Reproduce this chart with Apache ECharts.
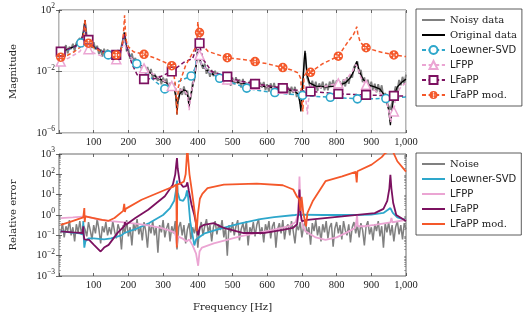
<!DOCTYPE html>
<html><head><meta charset="utf-8">
<script src="https://cdn.jsdelivr.net/npm/echarts@6/dist/echarts.min.js"></script>
<style>html,body{margin:0;padding:0;background:#fff}#c{width:525px;height:317px}</style>
</head><body><div id="c"></div>
<script>
// ---------- tick labels ----------
const xTicks = [100,200,300,400,500,600,700,800,900,1000];
const magTicks = [1e-6,1e-2,1e2];
const errTicks = [1e-3,1e-2,1e-1,1,10,100,1000];

// ---------- sample grid for noisy curves ----------
const gridF = [5,10,15,20,25,30,35,40,45,50,55,60,65,70,75,80,85,90,95,100,105,110,115,120,125,130,135,140,145,150,155,160,165,170,175,180,185,190,195,200,205,210,215,220,225,230,235,240,245,250,255,260,265,270,275,280,285,290,295,300,305,310,315,320,325,330,335,340,345,350,355,360,365,370,375,380,385,390,395,400,405,410,415,420,425,430,435,440,445,450,455,460,465,470,475,480,485,490,495,500,505,510,515,520,525,530,535,540,545,550,555,560,565,570,575,580,585,590,595,600,605,610,615,620,625,630,635,640,645,650,655,660,665,670,675,680,685,690,695,700,705,710,715,720,725,730,735,740,745,750,755,760,765,770,775,780,785,790,795,800,805,810,815,820,825,830,835,840,845,850,855,860,865,870,875,880,885,890,895,900,905,910,915,920,925,930,935,940,945,950,955,960,965,970,975,980,985,990,995,1000];

// ---------- top: magnitude ----------
const noisyData = [3.2e-1,1.3e-1,2.5e-1,5.2e-1,1.5e-1,4.1e-1,2.9e-1,6.3e-1,2.2e-1,7.2e-1,5.4e-1,1.5,7.9e-1,3.8,18,2.1,4.5e-1,8.9e-1,3.4e-1,7.9e-1,2.7e-1,4.7e-1,1.4e-1,2.8e-1,9.5e-2,3.0e-1,1.15e-1,2.7e-1,7.4e-2,1.55e-1,5.5e-2,1.8e-1,8.9e-2,2.5e-1,1.12e-1,4.5e-1,1.4,2.5,2.0e-1,2.8e-1,6.6e-2,1.5e-1,4.5e-2,7.6e-2,1.95e-2,4.0e-2,5.0e-2,1.23e-2,2.0e-2,6.8e-3,1.95e-2,6.8e-3,1.45e-2,3.6e-3,6.9e-3,9.3e-3,2.5e-3,5.1e-3,1.45e-3,4.1e-3,1.86e-3,3.4e-3,9.1e-4,1.86e-3,5.6e-4,1.4e-3,5.6e-4,1.0e-4,1.6e-4,7.9e-4,3.0e-4,1.05e-3,3.0e-4,5.6e-4,1.0e-4,2.0e-4,1.8e-3,2.8e-3,3.2e-2,2.8e-1,5.6e-2,6.8e-2,1.5e-2,3.3e-2,7.1e-3,1.5e-2,4.5e-3,1.26e-2,5.0e-3,1.12e-2,2.8e-3,6.8e-3,2.0e-3,6.3e-3,2.3e-3,6.2e-3,1.5e-3,3.4e-3,1.2e-3,4.0e-3,1.45e-3,4.3e-3,1.6e-3,3.1e-3,9.1e-4,3.3e-3,1.0e-3,2.0e-3,7.4e-4,2.5e-3,1.05e-3,2.6e-3,7.2e-4,1.7e-3,6.0e-4,1.9e-3,9.3e-4,2.1e-3,6.3e-4,1.5e-3,4.9e-4,1.7e-3,6.5e-4,1.8e-3,4.6e-4,1.07e-3,4.2e-4,1.4e-3,4.9e-4,1.5e-3,4.0e-4,1.0e-3,3.1e-4,1.02e-3,4.1e-4,1.0e-3,2.2e-4,5.0e-4,7.9e-5,5.0e-4,1.26e-2,1.6e-1,4.0e-3,4.5e-3,8.9e-4,2.5e-3,7.4e-4,2.2e-3,5.5e-4,1.7e-3,7.8e-4,2.2e-3,5.9e-4,1.6e-3,5.9e-4,2.2e-3,1.0e-3,2.8e-3,8.3e-4,2.6e-3,8.9e-4,2.3e-3,8.7e-4,3.0e-3,1.07e-3,4.3e-3,1.6e-3,6.3e-3,4.0e-3,2.0e-2,2.2e-2,4.5e-2,7.1e-3,1.26e-2,2.0e-3,4.2e-3,8.9e-4,2.9e-3,7.9e-4,2.2e-3,5.9e-4,1.6e-3,4.5e-4,1.5e-3,4.5e-4,1.26e-3,2.2e-4,4.0e-4,1.0e-4,1.26e-4,3.2e-5,1.0e-4,1.26e-4,1.07e-3,5.6e-4,2.8e-3,1.26e-3,4.5e-3,1.6e-3,6.3e-3];

const originalData = [[5,1.8e-1],[20,2.5e-1],[40,3.8e-1],[55,6.0e-1],[62,8.9e-1],[67,1.6],[71,4.0],[74,16],[75.5,22],[77,5],[80,1.4],[88,6.3e-1],[100,4.0e-1],[115,2.5e-1],[130,1.66e-1],[150,1.12e-1],[165,1.12e-1],[175,1.8e-1],[181,4.0e-1],[185,1.26],[188,3.5],[190,1.6],[193,5.0e-1],[197,2.2e-1],[203,1.12e-1],[215,5.6e-2],[235,2.5e-2],[260,8.9e-3],[285,4.0e-3],[310,1.8e-3],[325,1.12e-3],[333,6.3e-4],[337,2.0e-4],[340,1.6e-5],[343,1.26e-4],[348,3.5e-4],[358,6.3e-4],[366,5.6e-4],[371,2.5e-4],[375,5.0e-5],[379,2.5e-4],[385,1.0e-3],[391,5.0e-3],[396,3.2e-2],[399,1.6e-1],[401,2.8e-1],[403,1.6e-1],[406,6.3e-2],[412,2.8e-2],[425,1.26e-2],[445,6.3e-3],[470,3.5e-3],[500,2.4e-3],[550,1.4e-3],[600,1.0e-3],[650,7.6e-4],[680,5.0e-4],[690,3.2e-4],[694,1.0e-4],[697,2.5e-5],[700,2.5e-4],[704,5.0e-3],[707,7.9e-2],[709,2.2e-1],[711,6.3e-2],[715,6.3e-3],[722,1.8e-3],[740,1.12e-3],[770,1.0e-3],[800,1.12e-3],[825,1.8e-3],[840,4.0e-3],[850,1.12e-2],[855,2.8e-2],[858,4.5e-2],[861,2.5e-2],[866,1.0e-2],[875,3.5e-3],[885,1.8e-3],[895,1.26e-3],[910,1.0e-3],[925,7.1e-4],[935,3.5e-4],[943,1.26e-4],[950,3.2e-5],[955,3.2e-6],[959,2.5e-5],[965,2.5e-4],[975,1.0e-3],[988,2.0e-3],[1000,3.2e-3]];

const loewnerLine = [[5,1.8e-1],[30,2.8e-1],[50,4.5e-1],[68,1.6],[72,5.0],[75,10],[78,2.5],[85,1.0],[100,4.5e-1],[120,2.2e-1],[165,1.0e-1],[178,2.0e-1],[184,8.0e-1],[187,2.5],[190,1.2],[194,4.0e-1],[200,1.6e-1],[210,7.0e-2],[250,8.0e-3],[280,2.0e-3],[320,1.0e-3],[340,2.0e-3],[360,3.2e-3],[392,1.6e-2],[397,8.0e-2],[401,2.5e-1],[404,1.3e-1],[410,3.2e-2],[430,1.0e-2],[500,1.8e-3],[580,5.6e-4],[660,3.4e-4],[740,2.4e-4],[820,1.9e-4],[900,1.7e-4],[980,2.0e-4],[1000,2.2e-4]];
const loewnerMarks = [[63,7.2e-1],[142,1.2e-1],[224,3.2e-2],[305,7.4e-4],[381,5.1e-3],[463,3.6e-3],[541,8.3e-4],[622,4.3e-4],[702,2.8e-4],[782,2.1e-4],[860,1.66e-4],[942,1.74e-4]];

const lfppLine = [[30,8.0e-2],[60,2.0e-1],[70,4.5e-1],[74,1.5],[76,1.0],[80,3.5e-1],[100,1.6e-1],[130,8.9e-2],[175,1.0e-1],[183,4.0e-1],[186,1.2],[189,1.5],[192,4.0e-1],[200,1.3e-1],[220,4.0e-2],[280,5.0e-3],[340,6.3e-4],[360,6.3e-4],[370,3.2e-4],[375,3.0e-5],[380,3.2e-4],[391,5.0e-3],[397,5.0e-2],[401,2.5e-1],[404,1.3e-1],[410,3.2e-2],[430,1.0e-2],[520,2.1e-3],[600,1.0e-3],[680,5.0e-4],[700,4.0e-4],[710,2.5e-4],[714,5.0e-5],[716,1.6e-5],[718,1.0e-4],[760,1.0e-3],[830,3.5e-3],[848,1.26e-2],[855,2.8e-2],[858,3.2e-2],[862,1.6e-2],[870,4.0e-3],[900,8.0e-4],[930,3.2e-4],[945,1.0e-4],[952,1.6e-5],[956,5.0e-6],[960,1.6e-5],[970,2.5e-4],[985,1.0e-3],[1000,1.8e-3]];
const lfppMarks = [[5,4.4e-2],[85,2.8e-1],[165,6.3e-2],[245,1.6e-2],[325,1.15e-3],[405,1.2e-1],[485,3.0e-3],[565,1.4e-3],[645,7.6e-4],[725,6.3e-4],[805,1.7e-3],[885,1.35e-3],[965,2.5e-5]];

const lfappLine = [[20,2.6e-1],[45,4.0e-1],[62,8.0e-1],[70,2.5],[74,10],[76,6.3],[79,2.0],[100,4.5e-1],[130,1.8e-1],[175,1.6e-1],[183,6.3e-1],[187,3.0],[190,4.0],[193,1.0],[198,2.5e-1],[210,3.2e-2],[225,6.3e-3],[280,3.5e-3],[360,4.0e-2],[385,7.0e-2],[394,2.5e-1],[400,7.0e-1],[402,7.9e-1],[407,3.5e-1],[415,6.3e-2],[440,1.0e-2],[520,2.5e-3],[600,1.2e-3],[680,6.3e-4],[760,4.3e-4],[840,3.3e-4],[920,2.8e-4],[1000,2.5e-4]];
const lfappMarks = [[5,1.95e-1],[85,1.15],[165,1.2e-1],[245,3.2e-3],[325,1.0e-2],[405,6.9e-1],[485,4.7e-3],[565,1.55e-3],[645,8.3e-4],[725,5.0e-4],[805,3.5e-4],[885,3.0e-4],[965,2.6e-4]];

const lfappModLine = [[20,1.0e-1],[45,2.0e-1],[62,4.0e-1],[70,1.5],[73,8],[75,25],[77,6],[79,1.2],[100,3.5e-1],[130,1.6e-1],[178,2.2e-1],[184,1.0],[187,8],[189,45],[191,6],[194,1.0],[200,4.0e-1],[215,1.9e-1],[280,7.0e-2],[310,3.5e-2],[330,1.0e-2],[336,1.0e-3],[340,1.6e-5],[344,1.0e-3],[352,3.5e-3],[365,2.5e-2],[380,1.0e-1],[392,3.2e-1],[398,1.5],[400,17],[402,6],[410,6.3e-1],[430,2.0e-1],[540,5.6e-2],[600,3.2e-2],[670,1.26e-2],[690,7.9e-3],[697,3.2e-3],[701,5.0e-5],[703,2.5e-5],[706,5.0e-3],[712,7.9e-3],[760,3.2e-2],[830,7.0e-1],[848,2.4],[855,5.0],[858,8.3],[861,3.0],[868,8.0e-1],[920,2.0e-1],[1000,9.3e-2]];
const lfappModMarks = [[5,8.5e-2],[85,6.9e-1],[165,1.2e-1],[245,1.3e-1],[325,2.4e-2],[405,3.4],[485,7.9e-2],[565,4.4e-2],[645,1.8e-2],[725,8.9e-3],[805,1.0e-1],[885,3.5e-1],[965,1.2e-1]];

// ---------- bottom: relative error ----------
const noiseErr = [1.26e-1,4.0e-1,7.9e-2,2.8e-1,1.6e-1,5.6e-1,1.0e-1,2.5e-1,5.0e-2,3.5e-1,1.4e-1,5.0e-1,1.12e-1,3.2e-1,2.0e-1,8.9e-2,4.5e-1,1.8e-1,6.3e-2,3.2e-1,1.26e-1,6.3e-1,2.0e-1,4.0e-2,2.8e-1,1.4e-1,4.5e-1,1.0e-1,2.5e-1,1.12e-1,5.0e-1,1.6e-1,7.1e-2,3.5e-1,1.8e-1,2.0e-2,3.2e-1,1.26e-1,5.6e-1,8.9e-2,2.5e-1,3.2e-2,4.0e-1,1.6e-1,6.3e-1,1.12e-1,2.8e-1,5.6e-2,4.5e-1,1.6e-1,2.5e-2,3.5e-1,1.26e-1,5.0e-1,1.0e-1,2.5e-1,1.4e-2,3.2e-1,1.4e-1,5.6e-1,7.9e-2,2.2e-1,4.0e-1,5.0e-2,2.8e-1,1.26e-1,5.0e-1,2.0e-2,2.5e-1,4.5e-1,1.0e-1,3.2e-1,4.0e-2,2.0e-1,4.0e-1,6.3e-2,2.5e-1,1.26e-1,3.5e-1,2.5e-2,2.0e-1,4.5e-1,1.0e-1,2.8e-1,6.3e-1,1.4e-1,3.2e-1,5.0e-2,2.5e-1,5.0e-1,1.12e-1,3.5e-1,1.8e-1,5.6e-1,7.9e-2,2.5e-1,1.0e-2,3.2e-1,1.4e-1,4.5e-1,1.0e-1,2.8e-1,5.6e-1,5.6e-2,2.0e-1,4.0e-1,1.26e-1,5.0e-1,3.2e-2,2.5e-1,1.4e-1,4.5e-1,8.9e-2,3.2e-1,6.3e-1,1.12e-1,2.5e-1,4.5e-2,3.5e-1,1.6e-1,5.0e-1,7.1e-2,2.8e-1,4.5e-1,2.5e-2,2.0e-1,4.0e-1,1.26e-1,5.6e-1,6.3e-2,2.5e-1,3.5e-1,1.0e-1,5.0e-1,1.6e-1,4.0e-2,3.2e-1,1.8e-1,4.5e-1,7.9e-2,2.8e-1,5.0e-1,1.12e-1,2.5e-1,3.5e-2,4.0e-1,1.6e-1,5.6e-1,1.0e-1,2.8e-1,5.0e-2,3.5e-1,1.4e-1,5.0e-1,7.1e-2,2.5e-1,4.0e-1,2.8e-2,2.2e-1,4.5e-1,1.26e-1,3.2e-1,6.3e-2,5.0e-1,1.8e-1,1.0e-1,3.5e-1,4.5e-2,2.5e-1,4.5e-1,1.26e-1,3.2e-1,7.9e-2,4.0e-1,1.8e-1,3.2e-2,2.8e-1,5.0e-1,1.12e-1,2.5e-1,5.6e-2,3.5e-1,1.6e-1,5.0e-1,8.9e-2,2.8e-1,2.5e-2,4.0e-1,1.4e-1,4.5e-1,1.0e-1,3.2e-1,5.0e-2,2.5e-1,5.0e-1,1.12e-1,3.2e-1,6.3e-2,4.0e-1,2.0e-1];

const loewnerErr = [[5,1.6e-1],[30,1.4e-1],[60,1.26e-1],[68,1.12e-1],[70,5.0e-1],[71,1.0e-1],[73,2.5e-2],[76,5.0e-2],[85,7.1e-2],[100,7.1e-2],[130,6.3e-2],[150,7.1e-2],[180,1.0e-1],[188,1.3e-1],[190,1.6e-1],[192,1.3e-1],[220,2.0e-1],[260,4.0e-1],[300,1.0],[320,2.2],[332,5.0],[338,20],[340,50],[342,12.6],[348,5.6],[358,5.0],[365,7.9],[369,16],[372,7.9],[378,5.0e-1],[385,1.0e-1],[390,3.2e-2],[395,6.3e-2],[400,7.9e-2],[420,1.26e-1],[460,2.0e-1],[520,3.8e-1],[580,6.3e-1],[620,7.9e-1],[680,1.0],[690,1.05],[760,1.0],[850,1.0],[900,1.05],[935,1.26],[948,1.8],[955,2.2],[962,1.26],[975,7.6e-1],[1000,5.6e-1]];

const lfppErr = [[5,7.1e-1],[40,7.6e-1],[77,8.5e-1],[115,5.9e-1],[150,5.0e-1],[181,4.5e-1],[220,3.8e-1],[257,3.1e-1],[290,2.4e-1],[313,1.86e-1],[333,1.4e-1],[338,7.9e-2],[340,3.2e-2],[342,8.9e-2],[355,7.1e-2],[368,5.0e-2],[375,6.3e-2],[385,3.2e-2],[395,1.26e-2],[401,3.2e-3],[405,1.6e-2],[412,2.5e-2],[446,4.0e-2],[522,8.9e-2],[617,1.86e-1],[664,2.8e-1],[682,4.5e-1],[688,1.0],[691,6.3],[693,79],[695,6.3],[698,6.3e-1],[704,2.5e-1],[711,1.55e-1],[740,7.9e-2],[768,6.0e-2],[800,7.9e-2],[830,1.4e-1],[853,2.3e-1],[857,5.0e-1],[859,1.0],[861,2.8e-1],[880,2.8e-1],[910,3.3e-1],[955,4.3e-1],[958,7.1e-1],[961,4.4e-1],[1000,5.8e-1]];

const lfappErr = [[5,1.55e-1],[40,1.4e-1],[68,1.3e-1],[70,2.8e-1],[71,1.12e-1],[73,6.3e-2],[76,7.9e-2],[87,6.0e-2],[100,3.5e-2],[120,1.6e-2],[130,2.5e-2],[143,3.4e-2],[170,1.4e-1],[188,2.8e-1],[190,4.5e-1],[192,3.2e-1],[220,7.1e-1],[257,1.8],[305,8.3],[328,31],[335,100],[338,316],[340,630],[342,200],[348,40],[358,24],[366,26],[370,40],[374,16],[382,3.2],[390,1.0],[397,2.5e-1],[401,1.0e-1],[406,2.5e-1],[418,3.3e-1],[446,4.0e-1],[475,2.3e-1],[532,1.3e-1],[589,1.3e-1],[645,1.86e-1],[674,2.3e-1],[686,3.5e-1],[690,1.26],[693,18],[696,1.26],[700,5.0e-1],[716,5.8e-1],[816,8.5e-1],[910,1.23],[935,2.0],[946,5.0],[952,20],[955,95],[958,20],[963,4.0],[972,1.0],[1000,5.1e-1]];

const lfappModErr = [[5,3.3e-1],[30,4.5e-1],[49,5.8e-1],[70,7.6e-1],[73,2.2],[74,4.5e-1],[76,8.5e-1],[100,7.1e-1],[125,5.8e-1],[143,5.2e-1],[160,7.1e-1],[185,1.6],[188,3.5],[190,1.4],[192,2.0],[238,5.6],[305,17],[330,25],[338,32],[339.5,2.5e-2],[341,32],[350,35],[360,45],[365,100],[368,630],[370,2500],[372,630],[376,100],[382,20],[389,2.5],[394,5.0e-1],[397,1.6e-1],[400,1.0],[406,6.3],[413,11],[428,21],[475,31],[570,35],[645,29],[675,18],[686,7.9],[692,6.3],[696,1.6],[699,7.9],[704,1.26],[712,2.8e-1],[716,1.26],[731,4.7],[768,46],[816,79],[855,132],[858,40],[860,141],[901,300],[930,700],[940,1100],[960,1600],[975,440],[1000,135]];

// ---------- styling ----------
const GRAY = '#808080', CYAN = '#2ea7cb', PINK = '#eba5d3', PURPLE = '#7c1160', ORANGE = '#f4582a';
const TF = 'Liberation Serif', NF = 'DejaVu Serif', SF = 'DejaVu Sans';
const OSYM = 'path://M10,0A10,10 0 1,1 -10,0A10,10 0 1,1 10,0Z M-1.6,-1.6L-1.6,1.6L1.6,1.6L1.6,-1.6Z M-1.6,-6.8L-1.6,-3.6L1.6,-3.6L1.6,-6.8Z M-1.6,3.6L-1.6,6.8L1.6,6.8L1.6,3.6Z M-6.8,-1.6L-6.8,1.6L-3.6,1.6L-3.6,-1.6Z M3.6,-1.6L3.6,1.6L6.8,1.6L6.8,-1.6Z';

function withMarks(line, marks) {
  const pts = line.map(p => ({ value: p, symbol: 'none' })).concat(marks.map(p => ({ value: p })));
  pts.sort((a, b) => a.value[0] - b.value[0]);
  return pts;
}
const noisyPairs = gridF.map((f, i) => [f, noisyData[i]]);
const noiseErrPairs = gridF.map((f, i) => [f, noiseErr[i]]);

function fmtX(v) { if (xTicks.indexOf(v) < 0) return ''; return v >= 1000 ? '1,000' : String(v); }
function fmtPow(v) {
  const e = Math.round(Math.log10(v));
  return '10{e|' + (e < 0 ? '\u2212' + (-e) : e) + '}';
}
const minorVals = [];
for (let e = -3; e < 3; e++) for (let m = 2; m <= 9; m++) minorVals.push(m * Math.pow(10, e));

const labelRich = { e: { fontSize: 7.5, fontFamily: TF, color: '#222', padding: [0, 0, 7, 0] } };
const tickStyle = { lineStyle: { color: '#444', width: 0.8 } };
const nameStyle = { fontFamily: NF, fontSize: 10, color: '#222' };

function xAx(grid, top, named, split) {
  return {
    gridIndex: grid, type: 'value', min: 0, max: 1000, interval: 100, position: top ? 'top' : 'bottom',
    axisLine: { show: false },
    axisTick: Object.assign({ inside: true, length: 3 }, tickStyle),
    axisLabel: top ? { show: false } : { formatter: fmtX, fontFamily: TF, fontSize: 10.5, color: '#222', margin: 4 },
    splitLine: { show: !!split, lineStyle: { color: '#e2e2e2', width: 0.8 } },
    name: named ? 'Frequency [Hz]' : '', nameLocation: 'middle', nameGap: 26, nameTextStyle: nameStyle
  };
}
function yAx(grid, min, max, iv, right, name, split) {
  return {
    gridIndex: grid, type: 'log', logBase: 10, min: min, max: max, interval: iv, position: right ? 'right' : 'left',
    axisLine: { show: false },
    axisTick: Object.assign({ inside: true, length: 3 }, tickStyle),
    axisLabel: right ? { show: false } : { formatter: fmtPow, fontFamily: TF, fontSize: 10.5, color: '#222', margin: 4, rich: labelRich },
    splitLine: { show: !!split, lineStyle: { color: '#e2e2e2', width: 0.8 } },
    name: name || '', nameLocation: 'middle', nameGap: 41, nameTextStyle: nameStyle
  };
}
function minorAx(right) {
  return {
    gridIndex: 1, type: 'log', logBase: 10, min: 1e-3, max: 1e3, position: right ? 'right' : 'left',
    axisLine: { show: false }, axisLabel: { show: false }, splitLine: { show: false },
    axisTick: Object.assign({ inside: true, length: 1.8, customValues: minorVals }, { lineStyle: { color: '#666', width: 0.6 } })
  };
}

function modelSeries(name, line, marks, color, symbol, size, fill, bw) {
  return {
    name: name, type: 'line', xAxisIndex: 0, yAxisIndex: 0, data: withMarks(line, marks),
    symbol: symbol, symbolSize: size, showSymbol: true, showAllSymbol: true, color: color,
    itemStyle: { color: fill, borderColor: color, borderWidth: bw },
    lineStyle: { color: color, width: 1.5, type: [4, 2.6] }, animation: false
  };
}
function plainSeries(name, xi, yi, data, color, w) {
  return { name: name, type: 'line', xAxisIndex: xi, yAxisIndex: yi, data: data, symbol: 'none', color: color,
    itemStyle: { opacity: 0 }, lineStyle: { color: color, width: w }, animation: false };
}

const legendBase = {
  orient: 'vertical', left: 416, itemWidth: 23, itemHeight: 10, itemGap: 5, padding: [6, 5, 6, 5],
  borderColor: '#333', borderWidth: 0.8, backgroundColor: '#fff', selectedMode: false,
  textStyle: { fontFamily: SF, fontSize: 10, color: '#222', rich: { s: { fontFamily: NF, fontSize: 10, color: '#222' } } }
};
const serifNames = { 'Noisy data': 1, 'Original data': 1, 'Noise': 1 };
function legendFmt(n) {
  const name = n.replace(/^e-/, '');
  if (serifNames[name]) return '{s|' + name + '}';
  if (name === 'LFaPP mod.') return 'LFaPP {s|mod.}';
  return name;
}
const noSym = n => ({ name: n, itemStyle: { opacity: 0 } });

const option = {
  animation: false,
  textStyle: { fontFamily: TF },
  grid: [
    { left: 53, right: 119, top: 10, height: 123, show: true, borderColor: '#444', borderWidth: 0.8 },
    { left: 53, right: 119, top: 154, height: 122, show: true, borderColor: '#444', borderWidth: 0.8 }
  ],
  xAxis: [xAx(0, false, false, true), xAx(0, true, false, false), xAx(1, false, true, false), xAx(1, true, false, false)],
  yAxis: [
    yAx(0, 1e-6, 1e2, 4, false, 'Magnitude', true), yAx(0, 1e-6, 1e2, 4, true, '', false),
    yAx(1, 1e-3, 1e3, 1, false, 'Relative error', false), yAx(1, 1e-3, 1e3, 1, true, '', false),
    minorAx(false), minorAx(true)
  ],
  legend: [
    Object.assign({}, legendBase, { top: 9, formatter: legendFmt,
      data: [noSym('Noisy data'), noSym('Original data'), 'Loewner-SVD', 'LFPP', 'LFaPP', 'LFaPP mod.'] }),
    Object.assign({}, legendBase, { top: 153, formatter: legendFmt,
      data: [noSym('Noise'), noSym('e-Loewner-SVD'), noSym('e-LFPP'), noSym('e-LFaPP'), noSym('e-LFaPP mod.')] })
  ],
  series: [
    plainSeries('Noisy data', 0, 0, noisyPairs, GRAY, 1.8),
    plainSeries('Original data', 0, 0, originalData, '#000', 1.3),
    modelSeries('Loewner-SVD', loewnerLine, loewnerMarks, CYAN, 'circle', 8, '#fff', 1.6),
    modelSeries('LFPP', lfppLine, lfppMarks, PINK, 'triangle', 9, '#fff', 1.5),
    modelSeries('LFaPP', lfappLine, lfappMarks, PURPLE, 'rect', 8.5, '#fff', 1.7),
    modelSeries('LFaPP mod.', lfappModLine, lfappModMarks, ORANGE, OSYM, 9.5, ORANGE, 0),
    plainSeries('Noise', 2, 2, noiseErrPairs, GRAY, 1.5),
    plainSeries('e-Loewner-SVD', 2, 2, loewnerErr, CYAN, 1.8),
    plainSeries('e-LFPP', 2, 2, lfppErr, PINK, 1.8),
    plainSeries('e-LFaPP', 2, 2, lfappErr, PURPLE, 1.8),
    plainSeries('e-LFaPP mod.', 2, 2, lfappModErr, ORANGE, 1.8)
  ]
};
const chart = echarts.init(document.getElementById('c'), null, { renderer: 'canvas', width: 525, height: 317 });
chart.setOption(option);
</script></body></html>
